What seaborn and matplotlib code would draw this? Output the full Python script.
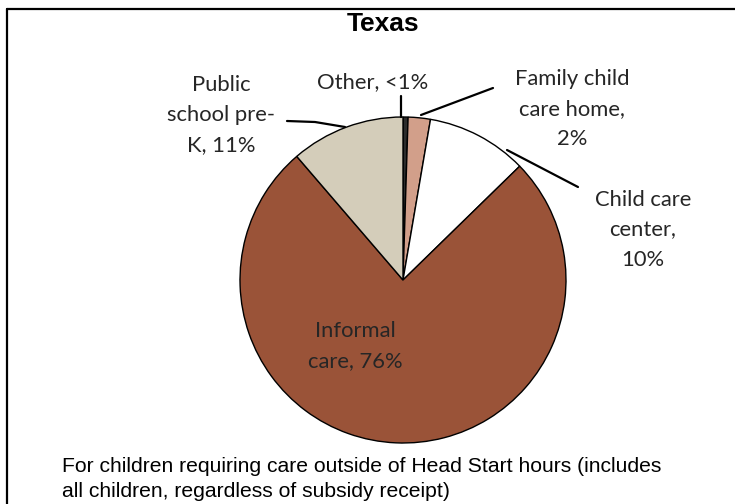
import matplotlib
matplotlib.use("Agg")
import matplotlib.pyplot as plt
import seaborn as sns
from matplotlib.lines import Line2D

categories = ["Other", "Family child care home", "Child care center", "Informal care", "Public school pre-K"]
values = [0.5, 2.2, 10.0, 76.0, 11.3]
labels = ["Other, <1%", "Family child\ncare home,\n2%", "Child care\ncenter,\n10%", "Informal\ncare, 76%", "Public\nschool pre-\nK, 11%"]
colors = ["#2b2b2b", "#D29F8A", "#FFFFFF", "#9A5338", "#D4CDBA"]

sns.set_theme(style="white")
plt.rcParams['font.family'] = ['Lato', 'DejaVu Sans']

W, H = 735, 504
fig = plt.figure(figsize=(W / 100, H / 100), dpi=100)
cx, cy, r = 403, 280, 163
ax = fig.add_axes([(cx - r) / W, (H - cy - r) / H, 2 * r / W, 2 * r / H])
ax.pie(values, colors=colors, startangle=90, counterclock=False, radius=1,
       wedgeprops=dict(edgecolor="black", linewidth=1.0))
ax.set_xlim(-1, 1)
ax.set_ylim(-1, 1)
ax.set_aspect("equal")
ax.axis("off")

def d(px, py):
    return ((px - cx) / r, (cy - py) / r)

lab_pos = [(373, 82), (572, 109), (643, 230), (355, 346), (221, 115)]
leaders = [
    [(401, 96), (401, 117)],
    [(493, 88), (421, 115)],
    [(507, 150), (578, 187)],
    None,
    [(287, 121), (315, 122), (345, 127)],
]
for lab, (px, py), ld in zip(labels, lab_pos, leaders):
    x, y = d(px, py)
    ax.text(x, y, lab, ha="center", va="center", fontsize=15.8, color="#262626",
            linespacing=1.6, clip_on=False)
    if ld:
        xs, ys = zip(*[d(a, b) for a, b in ld])
        ax.plot(xs, ys, color="black", linewidth=1.6, clip_on=False)

fig.text(383 / W, 1 - 24 / H, "Texas", ha="center", va="center", fontsize=19,
         fontweight="bold", family="Liberation Sans", color="black")
fig.text(62 / W, 1 - 479 / H,
         "For children requiring care outside of Head Start hours (includes\nall children, regardless of subsidy receipt)",
         ha="left", va="center", fontsize=15.2, family="Liberation Sans", color="black", linespacing=1.35)

fig.add_artist(Line2D([7 / W, 1], [1 - 9 / H, 1 - 9 / H], transform=fig.transFigure, color="black", linewidth=1.6))
fig.add_artist(Line2D([7 / W, 7 / W], [0, 1 - 9 / H], transform=fig.transFigure, color="black", linewidth=1.6))

fig.savefig("out.png", dpi=100)
